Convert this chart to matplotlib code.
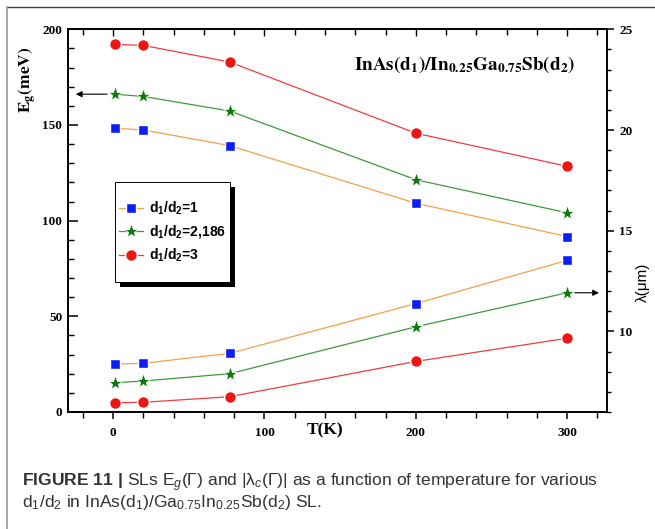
import matplotlib
matplotlib.use('Agg')
import matplotlib.pyplot as plt
from matplotlib.patches import Rectangle
from matplotlib.lines import Line2D
from matplotlib.ticker import MultipleLocator

# data
T = [1, 20, 77, 200, 300]
eg_1 = [148.3, 147.4, 139.2, 109.1, 91.7]
eg_2186 = [166.1, 164.9, 157.3, 121.4, 104.1]
eg_3 = [192.1, 191.6, 182.9, 145.7, 128.4]
lam_1 = [8.37, 8.42, 8.91, 11.38, 13.53]
lam_2186 = [7.45, 7.54, 7.90, 10.23, 11.92]
lam_3 = [6.46, 6.48, 6.76, 8.51, 9.66]
labels = ['d$_\\mathbf{1}$/d$_\\mathbf{2}$=1', 'd$_\\mathbf{1}$/d$_\\mathbf{2}$=2,186', 'd$_\\mathbf{1}$/d$_\\mathbf{2}$=3']

plt.rcParams['font.family'] = 'Liberation Serif'
plt.rcParams['font.weight'] = 'bold'
plt.rcParams['mathtext.fontset'] = 'custom'
plt.rcParams['mathtext.rm'] = 'Liberation Sans:normal'
plt.rcParams['mathtext.it'] = 'Liberation Sans:italic:normal'
plt.rcParams['mathtext.bf'] = 'Liberation Sans:bold'

fig = plt.figure(figsize=(6.55, 5.29), dpi=100)
ax = fig.add_axes([0.1034, 0.2212, 0.8226, 0.7234])
ax2 = ax.twinx()

s1 = dict(color='#f5a04a', marker='s', mfc='#0a1ef5', mec='white', ms=7, mew=1.0, lw=0.9)
s2 = dict(color='#3c9a3c', marker='*', mfc='#0f7a0f', mec='white', ms=11, mew=0.6, lw=0.9)
s3 = dict(color='#f03c3c', marker='o', mfc='#ee1515', mec='white', ms=8.5, mew=1.0, lw=0.9)

h1, = ax.plot(T, eg_1, **s1)
h2, = ax.plot(T, eg_2186, **s2)
h3, = ax.plot(T, eg_3, **s3)
ax2.plot(T, lam_1, **s1)
ax2.plot(T, lam_2186, **s2)
ax2.plot(T, lam_3, **s3)

# legend with boxed frame and black shadow
bx, by, bw, bh = 0.0878, 0.3397, 0.2134, 0.2613
dx, dy = 0.0093, -0.0131
ax2.add_patch(Rectangle((bx + dx, by + dy), bw, bh, transform=ax2.transAxes,
                        fc='black', ec='none', zorder=3.8, clip_on=False))
ax2.add_patch(Rectangle((bx, by), bw, bh, transform=ax2.transAxes,
                        fc='white', ec='black', lw=0.7, zorder=3.9, clip_on=False))
ax2.legend([h1, h2, h3], labels, loc='center', bbox_to_anchor=(bx + bw / 2, by + bh / 2),
           frameon=False, prop=dict(family='Liberation Sans', weight='bold', size=10),
           handlelength=1.7, handletextpad=0.4, labelspacing=0.45, borderpad=0)

# arrows pointing to the axes
ax.annotate('', xy=(0.015, eg_2186[0]), xycoords=('axes fraction', 'data'),
            xytext=(T[0] - 5, eg_2186[0]), textcoords='data',
            arrowprops=dict(arrowstyle='-|>', color='black', lw=0.8, mutation_scale=9,
                            shrinkA=0, shrinkB=0))
ax2.annotate('', xy=(0.986, lam_2186[-1]), xycoords=('axes fraction', 'data'),
             xytext=(T[-1] + 5, lam_2186[-1]), textcoords='data',
             arrowprops=dict(arrowstyle='-|>', color='black', lw=0.8, mutation_scale=9,
                             shrinkA=0, shrinkB=0))

ax.set_xlim(-30, 326)
ax.set_ylim(0, 200)
ax2.set_ylim(6, 25)

ax.xaxis.set_major_locator(MultipleLocator(100))
ax.xaxis.set_minor_locator(MultipleLocator(20))
ax.yaxis.set_major_locator(MultipleLocator(50))
ax.yaxis.set_minor_locator(MultipleLocator(10))
ax2.yaxis.set_major_locator(MultipleLocator(5))
ax2.yaxis.set_minor_locator(MultipleLocator(1))

ax.tick_params(axis='y', which='both', direction='in', right=False, labelsize=9.5, pad=4)
ax.tick_params(axis='y', which='major', length=7, width=1.1)
ax.tick_params(axis='y', which='minor', length=4, width=1)
ax.tick_params(axis='x', which='both', direction='out', top=False, labelsize=9.5, pad=6)
ax.tick_params(axis='x', which='major', length=5, width=1.1)
ax.tick_params(axis='x', which='minor', length=4, width=1)
ax2.tick_params(axis='y', which='both', direction='out', labelsize=9.5, pad=4)
ax2.tick_params(axis='y', which='major', length=5, width=1.1)
ax2.tick_params(axis='y', which='minor', length=3, width=1)

top = ax.secondary_xaxis('top')
top.xaxis.set_major_locator(MultipleLocator(100))
top.xaxis.set_minor_locator(MultipleLocator(20))
top.tick_params(which='both', direction='in', labeltop=False, width=1)
top.tick_params(which='major', length=5)
top.tick_params(which='minor', length=4)

for a in (ax, ax2, top):
    for sp in a.spines.values():
        sp.set_linewidth(1.2)

ax.text(0.737, 0.907, r'$\mathbf{InAs(d_1)/In_{0.25}Ga_{0.75}Sb(d_2)}$', transform=ax.transAxes,
        ha='center', va='center', fontsize=13.8, math_fontfamily='stix')
ax.text(140, -0.047, 'T(K)', transform=ax.get_xaxis_transform(), ha='center', va='center',
        fontsize=12.5)
fig.text(28 / 655, 1 - 80 / 529, r'$\mathbf{E_g(meV)}$', rotation=90, ha='center', va='center',
         fontsize=12.5, math_fontfamily='stix')
fig.text(643 / 655, 1 - 282 / 529, 'λ(μm)', rotation=90, ha='center', va='center',
         fontsize=11, family='Liberation Sans', weight='normal')

# caption
line1 = r'$\mathbf{FIGURE\ 11\ |}$ SLs E$_{\mathit{g}}$(Γ) and |λ$_{\mathit{c}}$(Γ)| as a function of temperature for various'
line2 = r'd$_1$/d$_2$ in InAs(d$_1$)/Ga$_{0.75}$In$_{0.25}$Sb(d$_2$) SL.'
fig.text(22 / 655, 1 - 486 / 529, line1, ha='left', va='baseline', fontsize=12.6,
         color='#333333', family='Liberation Sans', weight='normal')
fig.text(22 / 655, 1 - 507 / 529, line2, ha='left', va='baseline', fontsize=12.6,
         color='#333333', family='Liberation Sans', weight='normal')

# outer frame lines
fig.add_artist(Line2D([0.0111, 1], [0.9868, 0.9868], transform=fig.transFigure, color='#444444', lw=1))
fig.add_artist(Line2D([0.0111, 0.0111], [0, 0.9868], transform=fig.transFigure, color='#999999', lw=1.2))

fig.savefig('out.png', dpi=100, facecolor='white')
